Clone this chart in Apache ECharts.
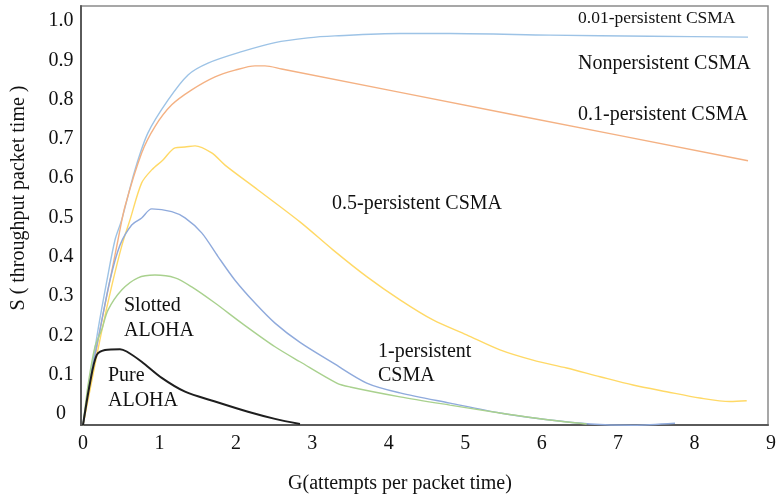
<!DOCTYPE html>
<html><head><meta charset="utf-8">
<script src="https://cdn.jsdelivr.net/npm/echarts@6/dist/echarts.min.js"></script>
<style>html,body{margin:0;padding:0;background:#fff}#c{width:779px;height:495px}</style>
</head><body><div id="c"></div>
<script>
// Tick labels
const xTicks = [0,1,2,3,4,5,6,7,8,9];
const yTicks = [0,0.1,0.2,0.3,0.4,0.5,0.6,0.7,0.8,0.9,1.0];

// Series values: [G, S]
const persist001 = [[0,-0.036],[0.091,0.079],[0.195,0.206],[0.312,0.332],[0.416,0.434],[0.503,0.485],[0.676,0.612],[0.845,0.706],[1.105,0.789],[1.366,0.853],[1.626,0.883],[2.064,0.912],[2.497,0.935],[2.926,0.947],[3.277,0.952],[4.123,0.958],[4.773,0.958],[6.074,0.954],[7.374,0.951],[8.649,0.949]];
const nonPersist = [[0,-0.036],[0.104,0.079],[0.221,0.206],[0.351,0.332],[0.455,0.434],[0.546,0.519],[0.763,0.655],[0.936,0.722],[1.154,0.777],[1.414,0.815],[1.717,0.848],[1.977,0.865],[2.237,0.876],[2.367,0.876],[2.584,0.868],[5.6,0.752],[8.649,0.635]];
const persist05 = [[0,-0.036],[0.117,0.079],[0.247,0.206],[0.377,0.320],[0.507,0.421],[0.611,0.485],[0.763,0.579],[0.894,0.612],[1.040,0.637],[1.197,0.668],[1.327,0.670],[1.457,0.673],[1.674,0.655],[1.847,0.624],[2.276,0.561],[2.822,0.480],[3.251,0.409],[3.690,0.341],[4.123,0.282],[4.552,0.231],[4.990,0.193],[5.423,0.155],[5.852,0.129],[6.291,0.109],[6.724,0.087],[7.153,0.066],[7.591,0.049],[8.023,0.033],[8.414,0.024],[8.632,0.026]];
const persist1 = [[0,-0.036],[0.091,0.079],[0.221,0.206],[0.351,0.332],[0.481,0.421],[0.633,0.472],[0.763,0.490],[0.894,0.513],[1.154,0.506],[1.327,0.490],[1.544,0.452],[1.756,0.392],[1.977,0.332],[2.237,0.274],[2.497,0.223],[2.822,0.174],[3.251,0.122],[3.690,0.071],[4.123,0.046],[4.773,0.020],[5.423,-0.005],[6.074,-0.023],[6.594,-0.033],[7.153,-0.036],[7.699,-0.031]];
const slottedAloha = [[0,-0.036],[0.069,0.070],[0.156,0.163],[0.243,0.206],[0.325,0.256],[0.503,0.307],[0.715,0.338],[0.936,0.345],[1.197,0.338],[1.414,0.315],[1.717,0.274],[2.064,0.223],[2.497,0.163],[2.822,0.125],[3.300,0.071],[3.473,0.061],[4.123,0.036],[4.773,0.015],[5.423,-0.005],[6.074,-0.023],[6.551,-0.033]];
const pureAloha = [[0,-0.036],[0.091,0.071],[0.178,0.142],[0.286,0.155],[0.481,0.157],[0.568,0.151],[0.763,0.125],[1.024,0.084],[1.327,0.049],[1.717,0.024],[2.146,-0.002],[2.497,-0.020],[2.822,-0.033]];

const seriesNames = ['0.01-persistent CSMA','Nonpersistent CSMA','0.5-persistent CSMA','1-persistent CSMA','Slotted ALOHA','Pure ALOHA'];
const seriesData = [persist001, nonPersist, persist05, persist1, slottedAloha, pureAloha];
const seriesColors = ['#9dc3e6','#f4b183','#ffd966','#8faadc','#a9d18e','#1e1e1e'];
const seriesWidths = [1.4,1.4,1.4,1.4,1.4,2];

const FONT = '"Liberation Serif", "Times New Roman", serif';

const chart = echarts.init(document.getElementById('c'));

function txt(text, x, y, size) {
  return {type:'text', x:x, y:y, z:100,
    style:{text:text, font:(size||20)+'px ' + FONT, fill:'#111', align:'left', verticalAlign:'middle', textAlign:'left', textVerticalAlign:'middle'}};
}
const hiddenAxis = {show:false};

chart.setOption({
  animation:false,
  backgroundColor:'#fff',
  grid:[
    {left:81, right:11, top:6, bottom:70, show:true, borderColor:'#8a8a8a', borderWidth:1.5},
    {left:83, right:4, top:17, bottom:84},
    {left:83, right:4, top:21, bottom:81}
  ],
  xAxis:[
    {gridIndex:0, type:'value', min:0, max:1, axisLine:{show:true, onZero:false, lineStyle:{color:'#5a5a5a', width:2}}, axisTick:{show:false}, axisLabel:{show:false}, splitLine:{show:false}},
    {gridIndex:1, type:'value', min:xTicks[0], max:xTicks[xTicks.length-1], show:false},
    {gridIndex:2, type:'value', min:xTicks[0], max:xTicks[xTicks.length-1], interval:1,
      axisLine:{show:false}, axisTick:{show:false}, splitLine:{show:false},
      axisLabel:{fontFamily:FONT, fontSize:20, color:'#111', margin:20}}
  ],
  yAxis:[
    {gridIndex:0, type:'value', min:0, max:1, axisLine:{show:true, onZero:false, lineStyle:{color:'#5a5a5a', width:2}}, axisTick:{show:false}, axisLabel:{show:false}, splitLine:{show:false}},
    {gridIndex:1, type:'value', min:yTicks[0], max:yTicks[yTicks.length-1], show:false},
    {gridIndex:2, type:'value', min:yTicks[0], max:yTicks[yTicks.length-1], interval:0.1,
      axisLine:{show:false}, axisTick:{show:false}, splitLine:{show:false},
      axisLabel:{fontFamily:FONT, fontSize:20, color:'#111', align:'center', margin:22,
        formatter:function(v){ return Math.abs(v) < 1e-9 ? '0' : v.toFixed(1); }}}
  ],
  graphic:[
    txt('0.01-persistent CSMA', 578, 18, 17.5),
    txt('Nonpersistent CSMA', 578, 64),
    txt('0.1-persistent CSMA', 578, 115),
    txt('0.5-persistent CSMA', 332, 204),
    txt('1-persistent', 378, 352),
    txt('CSMA', 378, 376),
    txt('Slotted', 124, 306),
    txt('ALOHA', 124, 331),
    txt('Pure', 108, 376),
    txt('ALOHA', 108, 401),
    {type:'text', x:400, y:484, z:100, style:{text:'G(attempts per packet time)', font:'20px ' + FONT, fill:'#111', align:'center', verticalAlign:'middle', textAlign:'center', textVerticalAlign:'middle'}},
    {type:'text', x:19, y:198, rotation:Math.PI/2, z:100, style:{text:'S ( throughput packet time )', font:'20px ' + FONT, fill:'#111', align:'center', verticalAlign:'middle', textAlign:'center', textVerticalAlign:'middle'}}
  ],
  series: seriesData.map(function(d, i){
    return {name:seriesNames[i], type:'line', xAxisIndex:1, yAxisIndex:1, data:d,
      showSymbol:false, symbol:'none', smooth:0.3, clip:false,
      lineStyle:{color:seriesColors[i], width:seriesWidths[i]}, z:2+i};
  })
});
</script></body></html>
